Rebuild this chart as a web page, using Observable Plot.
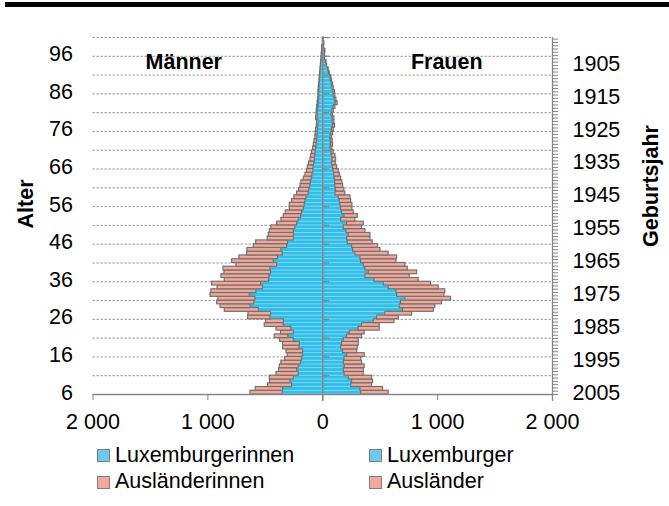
<!DOCTYPE html>
<html><head><meta charset="utf-8">
<script src="https://cdn.jsdelivr.net/npm/d3@7"></script>
<script src="https://cdn.jsdelivr.net/npm/@observablehq/plot@0.6"></script>
<style>
body{margin:0;background:#fff;font-family:Arial,"Liberation Sans",sans-serif;}
#wrap{position:relative;width:669px;height:506px;overflow:hidden;background:#fff}
#topbar{position:absolute;left:5px;top:2px;width:664px;height:5px;background:#000}
#chart{position:absolute;left:0;top:0}
.item{position:absolute;display:flex;align-items:center;white-space:nowrap;height:24px;font-size:21.5px;color:#000;line-height:1}
.sw{width:11px;height:11px;border:1px solid #7f7f7f;margin-right:5px}
</style></head><body>
<div id="wrap"><div id="chart"></div><div id="topbar"></div><div id="legend"></div></div>
<script>
// ages 6 .. 100 (one category per year of age)
const ages = d3.range(6, 101);
const luxMen = [348,345,267,281,252,209,223,209,189,180,174,171,203,200,252,299,252,273,339,339,
  455,450,557,629,595,586,635,577,519,537,467,464,450,455,397,426,389,348,360,310,
  302,252,252,252,238,223,209,189,180,165,157,151,142,122,
  118,108,104,96,90,82,80,75,68,66,62,57,54,51,46,45,43,39,37,46,44,42,40,36,34,32,32,30,28,25,23,20,18,15,12,10,8,5,5,3,3];
const auslMen = [281,238,209,177,209,194,157,165,171,148,131,145,142,145,119,119,111,130,166,154,
  195,197,296,261,324,322,342,392,397,426,386,418,406,409,354,363,336,310,295,290,
  278,227,218,209,209,174,151,150,142,122,130,116,105,101,
  87,86,82,69,61,54,50,44,39,35,31,27,24,21,18,16,15,13,12,12,11,10,9,8,7,6,6,5,4,4,3,3,2,2,2,2,1,1,1,0,0];
const luxWomen = [334,328,249,255,226,189,183,191,183,189,212,177,160,168,183,212,235,313,342,444,
  473,545,699,670,682,719,647,641,574,531,450,371,400,371,357,334,328,284,264,255,
  218,212,226,206,183,212,160,189,168,160,154,148,139,110,
  115,110,108,105,100,95,88,82,85,82,75,68,72,70,66,74,80,90,85,86,77,83,95,113,104,96,94,85,80,72,67,55,47,34,29,18,18,20,11,12,8];
const auslWomen = [240,197,180,183,203,168,174,174,159,145,153,122,145,145,130,130,130,183,154,180,
  188,232,267,310,356,398,412,426,435,412,385,386,421,369,362,307,319,290,238,224,
  217,203,189,165,159,145,124,116,102,98,104,99,102,87,
  73,67,63,55,48,44,37,31,31,28,21,16,18,17,15,16,16,17,16,15,13,13,15,17,15,14,13,11,10,9,8,6,5,4,3,2,2,3,1,2,1];

const xTicks = [-2000, -1000, 0, 1000, 2000];
const ageLabels = [6, 16, 26, 36, 46, 56, 66, 76, 86, 96];
const yearLabels = [1905, 1915, 1925, 1935, 1945, 1955, 1965, 1975, 1985, 1995, 2005];
const legendLabels = ["Luxemburgerinnen", "Luxemburger", "Ausländerinnen", "Ausländer"];

const FONT = 'Arial, "Liberation Sans", sans-serif';
const BLUE = "#2ebfea", SALMON = "#f4a797";

// secondary (birth-year) axis: categories 2005 (bottom) .. ~1897 (top)
const ageLo = 5.5, ageHi = 100.5, yearBottom = 2005.5, yearTop = 1897;
const yearToAge = yr => ageLo + (yearBottom - yr) * (ageHi - ageLo) / (yearBottom - yearTop);
const yearBounds = d3.range(yearBottom, yearTop - 0.01, -1).map(yearToAge);

const gridAges = d3.range(10.5, 101, 5);

const rows = [];
ages.forEach((a, i) => {
  rows.push({age: a, g: "lux", x1: -luxMen[i], x2: 0});
  rows.push({age: a, g: "aus", x1: -(luxMen[i] + auslMen[i]), x2: -luxMen[i]});
  rows.push({age: a, g: "lux", x1: 0, x2: luxWomen[i]});
  rows.push({age: a, g: "aus", x1: luxWomen[i], x2: luxWomen[i] + auslWomen[i]});
});
const fmt = d => String(Math.abs(d)).replace(/\B(?=(\d{3})+(?!\d))/g, " ");
const titleOpts = {text: d => d, fontWeight: "bold", fontSize: 21.5, textAnchor: "middle", lineAnchor: "middle"};

const chart = Plot.plot({
  width: 669, height: 440,
  marginTop: 37, marginBottom: 46, marginLeft: 92.5, marginRight: 117,
  x: {domain: [-2000, 2000]},
  y: {domain: [ageLo, ageHi]},
  style: {fontFamily: FONT, fontSize: "21.5px", color: "#000", background: "transparent", overflow: "visible"},
  marks: [
    Plot.ruleY(gridAges, {stroke: "#9a9a9a", strokeDasharray: "2.5,1.5", strokeWidth: 1}),
    Plot.rect(rows.filter(d => d.g === "lux"), {x1: "x1", x2: "x2", y1: d => d.age - 0.5, y2: d => d.age + 0.5, fill: BLUE, stroke: "#8fd7ef", strokeWidth: 0.7}),
    Plot.rect(rows.filter(d => d.g === "aus"), {x1: "x1", x2: "x2", y1: d => d.age - 0.5, y2: d => d.age + 0.5, fill: SALMON, stroke: "#727272", strokeWidth: 1.2}),
    Plot.ruleY([ageLo], {stroke: "#868686", strokeWidth: 1.3}),
    Plot.ruleX([0], {stroke: "#868686", strokeWidth: 1.6, insetBottom: -7}),
    Plot.ruleX([2000], {stroke: "#868686", strokeWidth: 1.3, insetBottom: -7}),
    Plot.ruleY(gridAges, {x1: 0, x2: 60, stroke: "#868686", strokeWidth: 1.3}),
    Plot.axisX({ticks: xTicks, tickSize: 6, tickPadding: 13, tickFormat: fmt, stroke: "#868686", fill: "#000", fontSize: 21.5, label: null}),
    Plot.axisY({anchor: "left", ticks: ageLabels, tickSize: 0, tickPadding: 20, tickFormat: d => String(d), fontSize: 21.5, label: null}),
    Plot.axisY({anchor: "right", ticks: yearBounds, tickSize: 5, tickFormat: () => "", stroke: "#868686", label: null}),
    Plot.axisY({anchor: "right", ticks: yearLabels.map(yearToAge), tickSize: 0, tickPadding: 20,
      tickFormat: d => String(yearLabels.find(y => Math.abs(yearToAge(y) - d) < 1e-6)), fontSize: 21.5, label: null}),
    Plot.text(["Alter"], {...titleOpts, frameAnchor: "left", dx: -67, dy: -12, rotate: -90}),
    Plot.text(["Geburtsjahr"], {...titleOpts, frameAnchor: "right", dx: 99, dy: -30, rotate: -90}),
    Plot.text(["Männer"], {...titleOpts, frameAnchor: "top", dx: -139, dy: 25}),
    Plot.text(["Frauen"], {...titleOpts, frameAnchor: "top", dx: 124, dy: 25})
  ]
});
document.getElementById("chart").appendChild(chart);

// legend
const legendColors = ["#6ccbea", "#6ccbea", "#f2aa9c", "#f2aa9c"];
const leg = document.getElementById("legend");
legendLabels.forEach((lab, i) => {
  const it = document.createElement("div");
  it.className = "item";
  it.style.left = (i % 2 === 0 ? 97 : 369) + "px";
  it.style.top = (Math.floor(i / 2) === 0 ? 443.5 : 470) + "px";
  const sw = document.createElement("span");
  sw.className = "sw";
  sw.style.background = legendColors[i];
  it.appendChild(sw);
  it.appendChild(document.createTextNode(lab));
  leg.appendChild(it);
});
</script>
</body></html>
